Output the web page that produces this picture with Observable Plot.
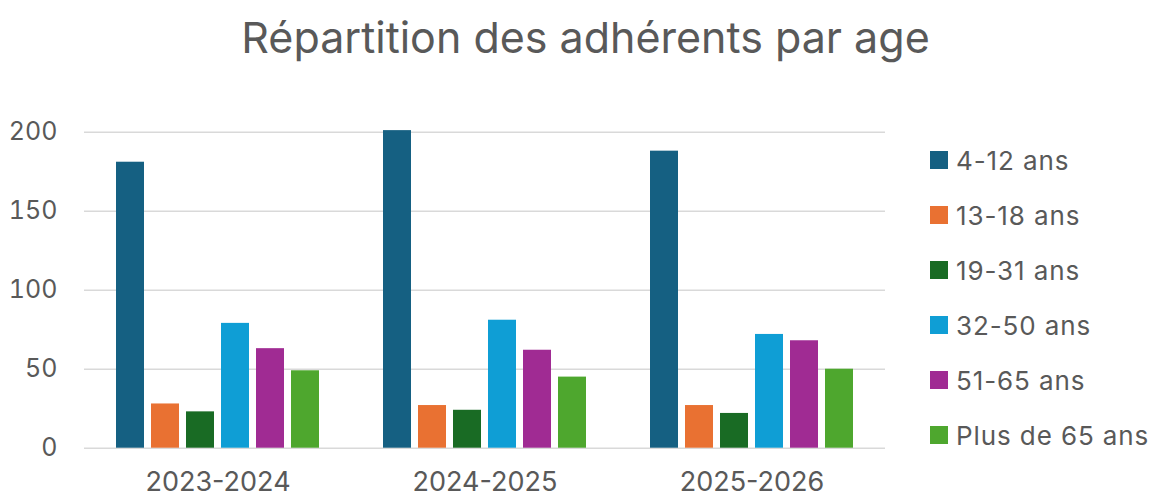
<!DOCTYPE html>
<html><head><meta charset="utf-8">
<script src="https://cdn.jsdelivr.net/npm/d3@7"></script>
<script src="https://cdn.jsdelivr.net/npm/@observablehq/plot@0.6"></script>
<style>
body{margin:0;background:#fff;font-family:Inter,sans-serif;}
#wrap{position:relative;width:1156px;height:500px;overflow:hidden;background:#fff;}
#title{position:absolute;left:0;top:16px;width:1171px;text-align:center;font-size:43px;line-height:43px;color:#595959;white-space:nowrap;}
#chart{position:absolute;left:0;top:80px;}
.lg{position:absolute;left:930px;height:55px;display:flex;align-items:center;font-size:26px;letter-spacing:0.9px;color:#595959;white-space:nowrap;}
.sw{width:18px;height:18px;margin-right:8px;flex:none;}
</style></head><body>
<div id="wrap"><div id="title">Répartition des adhérents par age</div><div id="chart"></div><div id="legend"></div></div>
<script>
const seasons = ["2023-2024", "2024-2025", "2025-2026"];
const ageGroups = ["4-12 ans", "13-18 ans", "19-31 ans", "32-50 ans", "51-65 ans", "Plus de 65 ans"];
const colors = ["#156082", "#E97132", "#196B24", "#0F9ED5", "#A02B93", "#4EA72E"];
const ans4to12 = [181, 201, 188];
const ans13to18 = [28, 27, 27];
const ans19to31 = [23, 24, 22];
const ans32to50 = [79, 81, 72];
const ans51to65 = [63, 62, 68];
const ansPlus65 = [49, 45, 50];
const yTicks = [0, 50, 100, 150, 200];

const series = [ans4to12, ans13to18, ans19to31, ans32to50, ans51to65, ansPlus65];
const data = [];
seasons.forEach((s, i) => series.forEach((vals, j) => data.push({season: s, age: ageGroups[j], value: vals[i]})));

const chart = Plot.plot({
  width: 1156, height: 420,
  marginLeft: 84, marginRight: 271, marginTop: 51.7, marginBottom: 52.3,
  style: {fontFamily: "Inter, sans-serif", color: "#595959", background: "white"},
  fx: {domain: seasons, padding: 0, label: null},
  x: {domain: ageGroups, paddingInner: 0.21, paddingOuter: 0.866, axis: null},
  y: {domain: [0, 200], label: null},
  color: {domain: ageGroups, range: colors},
  marks: [
    Plot.gridY(yTicks, {stroke: "#d9d9d9", strokeOpacity: 1, strokeWidth: 1.5}),
    Plot.axisY(yTicks, {tickSize: 0, tickPadding: 27, fontSize: 25, label: null}),
    Plot.axisFx({anchor: "bottom", tickSize: 0, tickPadding: 24, fontSize: 27, label: null}),
    Plot.barY(data, {fx: "season", x: "age", y: "value", fill: "age"})
  ]
});
document.getElementById("chart").appendChild(chart);

const legend = document.getElementById("legend");
ageGroups.forEach((a, i) => {
  const row = document.createElement("div");
  row.className = "lg";
  row.style.top = (160 + 55 * i - 27.5) + "px";
  const sw = document.createElement("div");
  sw.className = "sw";
  sw.style.background = colors[i];
  row.appendChild(sw);
  row.appendChild(document.createTextNode(a));
  legend.appendChild(row);
});
</script>
</body></html>
